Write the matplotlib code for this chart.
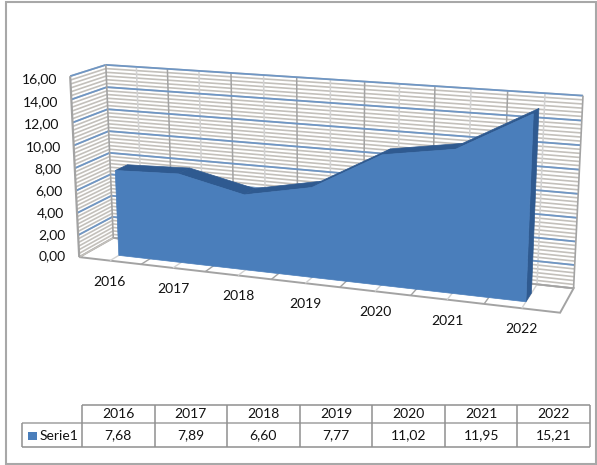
import numpy as np
import matplotlib
matplotlib.use('Agg')
import matplotlib.pyplot as plt
from matplotlib.patches import Polygon, Rectangle

plt.rcParams['font.family'] = ['Lato', 'DejaVu Sans']

years = ['2016', '2017', '2018', '2019', '2020', '2021', '2022']
serie1 = [7.68, 7.89, 6.60, 7.77, 11.02, 11.95, 15.21]
y_ticks = [0, 2, 4, 6, 8, 10, 12, 14, 16]
series_name = 'Serie1'

BLUE = '#4a7ebb'
DARK = '#2f5a90'
GRID = '#6f96c4'
MINOR = '#c3c0bb'
EDGE = '#a3a3a3'
LIGHT = '#d2d2d2'
TEXT = '#111111'

# world (x 0-7, value 0-16, depth 0-1) -> pixel corners, for a 3d homography
world = [(0, 0, 0), (0, 16, 0), (0, 0, 1), (0, 16, 1), (7, 16, 1), (7, 0, 1), (7, 0, 0)]
pixel = [(79.5, 257), (70, 76), (113, 238), (106, 65), (583, 95.7), (573.7, 288), (560, 313)]

rows = []
rhs = []
for (wx, wy, wz), (px, py) in zip(world, pixel):
    rows.append([wx, wy, wz, 1, 0, 0, 0, 0, -px * wx, -px * wy, -px * wz])
    rhs.append(px)
    rows.append([0, 0, 0, 0, wx, wy, wz, 1, -py * wx, -py * wy, -py * wz])
    rhs.append(py)
h = np.linalg.lstsq(np.array(rows, float), np.array(rhs, float), rcond=None)[0]
H = np.append(h, 1).reshape(3, 4)


def pr(x, y, z):
    p = H @ np.array([x, y, z, 1.0])
    return p[0] / p[2], p[1] / p[2]


fig = plt.figure(figsize=(5.97, 4.65), dpi=100)
ax = fig.add_axes([0, 0, 1, 1])
ax.set_xlim(0, 597)
ax.set_ylim(465, 0)
ax.axis('off')


def line(a, b, color, lw=1.0, zorder=2):
    ax.plot([a[0], b[0]], [a[1], b[1]], color=color, lw=lw, zorder=zorder, solid_capstyle='butt')


# chart frame
ax.add_patch(Rectangle((6, 2), 590, 462, fc='white', ec='#a8a8a8', lw=1.5, zorder=0))

# floor
ax.add_patch(Polygon([pr(0, 0, 0), pr(7, 0, 0), pr(7, 0, 1), pr(0, 0, 1)], fc='white', ec=EDGE, lw=1.4, zorder=1))
for k in range(1, 14):
    line(pr(k / 2, 0, 0), pr(k / 2, 0, 1), EDGE if k % 2 == 0 else LIGHT, 1.0)

# minor then major gridlines on side and back wall
for v in np.arange(0, 16.01, 2 / 6):
    line(pr(0, v, 0), pr(0, v, 1), MINOR, 1.2)
    line(pr(0, v, 1), pr(7, v, 1), MINOR, 1.2)
for k in range(1, 14):
    line(pr(k / 2, 0, 1), pr(k / 2, 16, 1), EDGE if k % 2 == 0 else LIGHT, 1.1)
for v in y_ticks[1:]:
    line(pr(0, v, 0), pr(0, v, 1), GRID, 1.3)
    line(pr(0, v, 1), pr(7, v, 1), GRID, 1.3)

# wall edges
line(pr(0, 0, 0), pr(0, 16, 0), EDGE, 1.6)
line(pr(0, 0, 1), pr(0, 16, 1), EDGE, 1.2)
line(pr(7, 0, 1), pr(7, 16, 1), EDGE, 1.2)
line(pr(0, 0, 1), pr(7, 0, 1), EDGE, 1.2)

# the area, between depth zf and zb
zf, zb = 0.26, 0.62
xs = [i + 0.5 for i in range(len(serie1))]
for i in range(len(xs) - 1):
    ax.add_patch(Polygon([pr(xs[i], serie1[i], zf), pr(xs[i + 1], serie1[i + 1], zf),
                          pr(xs[i + 1], serie1[i + 1], zb), pr(xs[i], serie1[i], zb)],
                         fc=DARK, ec=DARK, lw=0.5, zorder=3))
ax.add_patch(Polygon([pr(xs[-1], 0, zf), pr(xs[-1], serie1[-1], zf), pr(xs[-1], serie1[-1], zb), pr(xs[-1], 0, zb)],
                     fc=DARK, ec=DARK, lw=0.5, zorder=3))
front = [pr(xs[0], 0, zf)] + [pr(x, v, zf) for x, v in zip(xs, serie1)] + [pr(xs[-1], 0, zf)]
ax.add_patch(Polygon(front, fc=BLUE, ec=BLUE, lw=0.5, zorder=4))

# axis labels
for v in y_ticks:
    px, py = pr(0, v, 0)
    ax.text(px - 13, py - 1 + v / 4, f'{v:.2f}'.replace('.', ','), ha='right', va='center', fontsize=10, color=TEXT)
for x, lab in zip(xs, years):
    px, py = pr(x, 0, 0)
    ax.text(px, py + 21, lab, ha='center', va='center', fontsize=10, color=TEXT)

# data table
col_edges = np.linspace(82, 590, len(years) + 1)
top, mid, bot = 405, 423, 447
left = 22
line((col_edges[0], top), (col_edges[-1], top), '#8f8f8f', 1.1)
line((left, mid), (col_edges[-1], mid), '#a0a0a0', 1.1)
line((left, bot), (col_edges[-1], bot), '#8f8f8f', 1.1)
line((left, mid), (left, bot), '#8f8f8f', 1.1)
for c in col_edges:
    line((c, top), (c, bot), '#8f8f8f', 1.1)
ax.add_patch(Rectangle((28, 431.5), 9, 8.5, fc=BLUE, ec='none', zorder=3))
ax.text(40, 435.5, series_name, ha='left', va='center', fontsize=10, color=TEXT)
for i, (lab, v) in enumerate(zip(years, serie1)):
    cx = (col_edges[i] + col_edges[i + 1]) / 2
    ax.text(cx, 414, lab, ha='center', va='center', fontsize=10, color=TEXT)
    ax.text(cx, 435.5, f'{v:.2f}'.replace('.', ','), ha='center', va='center', fontsize=10, color=TEXT)

fig.savefig('out.png', dpi=100)
